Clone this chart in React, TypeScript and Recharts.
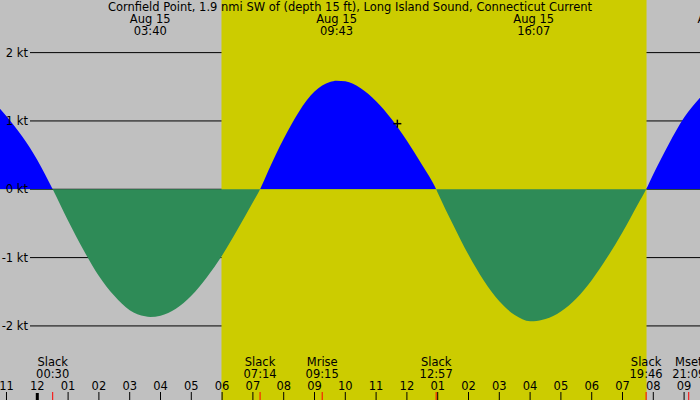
import React from "react";
import { AreaChart, Area, XAxis, YAxis, CartesianGrid, ReferenceArea, ReferenceDot } from "recharts";

// hours after midnight Aug 15 (negative = Aug 14), current in knots (+ flood, - ebb)
const hours = [
  -1.211, -1.0, -0.5, 0, 0.5, 1.0, 1.5, 2.0, 2.5, 3.0, 3.5, 3.667, 4.0, 4.5, 5.0, 5.5, 6.0, 6.5, 7.0, 7.233,
  7.5, 8.0, 8.5, 9.0, 9.5, 9.717, 10.0, 10.5, 11.0, 11.5, 12.0, 12.5, 12.95, 13.0, 13.5, 14.0, 14.5, 15.0,
  15.5, 16.0, 16.117, 16.5, 17.0, 17.5, 18.0, 18.5, 19.0, 19.5, 19.767, 20.0, 20.5, 21.0, 21.516,
];
const knots = [
  1.18, 1.07, 0.78, 0.43, 0, -0.46, -0.89, -1.27, -1.56, -1.77, -1.86, -1.87, -1.85, -1.75, -1.56, -1.29, -0.97, -0.59, -0.19, 0,
  0.27, 0.74, 1.14, 1.43, 1.57, 1.59, 1.58, 1.48, 1.29, 1.03, 0.71, 0.35, 0, -0.05, -0.52, -0.96, -1.34, -1.64,
  -1.84, -1.93, -1.93, -1.9, -1.79, -1.6, -1.33, -1.0, -0.63, -0.22, 0, 0.22, 0.66, 1.05, 1.34,
];

const hourTicks = [-1, 0, 1, 2, 3, 4, 5, 6, 7, 8, 9, 10, 11, 12, 13, 14, 15, 16, 17, 18, 19, 20, 21];
const knotTicks = [-2, -1, 0, 1, 2];

const eventTimes = [0.5, 7.233, 9.25, 12.95, 19.767, 21.15];
const eventNames = ["Slack", "Slack", "Mrise", "Slack", "Slack", "Mset"];
const eventClock = ["00:30", "07:14", "09:15", "12:57", "19:46", "21:09"];

const maxTimes = [3.667, 9.717, 16.117, 22.1];
const maxDates = ["Aug 15", "Aug 15", "Aug 15", "Aug 15"];
const maxClock = ["03:40", "09:43", "16:07", "22:06"];

const sunrise = 5.98;
const sunset = 19.78;
const nowTime = 11.69;
const nowKnots = 0.96;

const TITLE = "Cornfield Point, 1.9 nmi SW of (depth 15 ft), Long Island Sound, Connecticut Current";

const data = hours.map((h, i) => ({ h, v: knots[i] }));
const vMax = Math.max(...knots);
const vMin = Math.min(...knots);
const zeroOffset = vMax / (vMax - vMin);

const X_DOMAIN: [number, number] = [-1.211, 21.516];
const Y_DOMAIN: [number, number] = [-3.084, 2.77];
const FS = 11.5;

const HourTick = (props: any) => {
  const { x, payload } = props;
  const h = payload.value;
  const label = String(((h % 12) + 12) % 12 || 12).padStart(2, "0");
  return (
    <g>
      <text x={x} y={390} textAnchor="middle" fill="#000" fontSize={FS}>{label}</text>
      <line x1={x} x2={x} y1={h === 0 ? 393 : 392} y2={400} stroke="#000" strokeWidth={h === 0 ? 3 : 1} />
    </g>
  );
};

const EventTick = (props: any) => {
  const { x, payload } = props;
  const i = eventTimes.indexOf(payload.value);
  return (
    <g>
      <text x={x} y={366} textAnchor="middle" fill="#000" fontSize={FS}>{eventNames[i]}</text>
      <text x={x} y={378} textAnchor="middle" fill="#000" fontSize={FS}>{eventClock[i]}</text>
      <line x1={x} x2={x} y1={392} y2={400} stroke="#ff0000" strokeWidth={1} />
    </g>
  );
};

const MaxTick = (props: any) => {
  const { x, payload } = props;
  const i = maxTimes.indexOf(payload.value);
  return (
    <g>
      <text x={x} y={23} textAnchor="middle" fill="#000" fontSize={FS}>{maxDates[i]}</text>
      <text x={x} y={35} textAnchor="middle" fill="#000" fontSize={FS}>{maxClock[i]}</text>
    </g>
  );
};

const KnotTick = (props: any) => {
  const { y, payload } = props;
  return (
    <text x={28} y={y + 4} textAnchor="end" fill="#000" fontSize={FS}>{payload.value} kt</text>
  );
};

const Cross = (props: any) => {
  const { cx, cy } = props;
  return (
    <g stroke="#000" strokeWidth={1.5}>
      <line x1={cx - 4} x2={cx + 4} y1={cy} y2={cy} />
      <line x1={cx} x2={cx} y1={cy - 4} y2={cy + 4} />
    </g>
  );
};

export default function App() {
  return (
    <div
      style={{
        position: "absolute",
        left: 0,
        top: 0,
        width: 700,
        height: 400,
        background: "#c0c0c0",
        fontFamily: "'DejaVu Sans', sans-serif",
        overflow: "hidden",
      }}
    >
      <AreaChart width={700} height={400} data={data} margin={{ top: 0, right: 0, bottom: 0, left: 0 }}>
        <defs>
          <linearGradient id="flow" x1="0" y1="0" x2="0" y2="1">
            <stop offset={zeroOffset} stopColor="#0000ff" />
            <stop offset={zeroOffset} stopColor="#2e8b57" />
          </linearGradient>
        </defs>
        <ReferenceArea x1={sunrise} x2={sunset} fill="#cccc00" fillOpacity={1} stroke="none" />
        <CartesianGrid x={30} width={670} vertical={false} stroke="#000" horizontalValues={knotTicks} />
        <Area
          type="monotone"
          dataKey="v"
          stroke="none"
          fill="url(#flow)"
          fillOpacity={1}
          baseValue={0}
          dot={false}
          activeDot={false}
          isAnimationActive={false}
        />
        <ReferenceDot x={nowTime} y={nowKnots} r={4} shape={Cross} />
        <XAxis
          dataKey="h"
          type="number"
          domain={X_DOMAIN}
          allowDataOverflow
          ticks={hourTicks}
          interval={0}
          height={30}
          mirror
          axisLine={false}
          tickLine={false}
          tick={HourTick}
        />
        <XAxis
          xAxisId="events"
          dataKey="h"
          type="number"
          domain={X_DOMAIN}
          allowDataOverflow
          ticks={eventTimes}
          interval={0}
          height={30}
          mirror
          axisLine={false}
          tickLine={false}
          tick={EventTick}
        />
        <XAxis
          xAxisId="max"
          orientation="top"
          dataKey="h"
          type="number"
          domain={X_DOMAIN}
          allowDataOverflow
          ticks={maxTimes}
          interval={0}
          height={30}
          mirror
          axisLine={false}
          tickLine={false}
          tick={MaxTick}
        />
        <YAxis
          type="number"
          domain={Y_DOMAIN}
          allowDataOverflow
          ticks={knotTicks}
          interval={0}
          width={30}
          mirror
          axisLine={false}
          tickLine={false}
          tick={KnotTick}
        />
      </AreaChart>
      <div
        style={{
          position: "absolute",
          left: 0,
          top: 0,
          width: 700,
          textAlign: "center",
          fontSize: FS,
          lineHeight: "14px",
          color: "#000",
        }}
      >
        {TITLE}
      </div>
    </div>
  );
}
